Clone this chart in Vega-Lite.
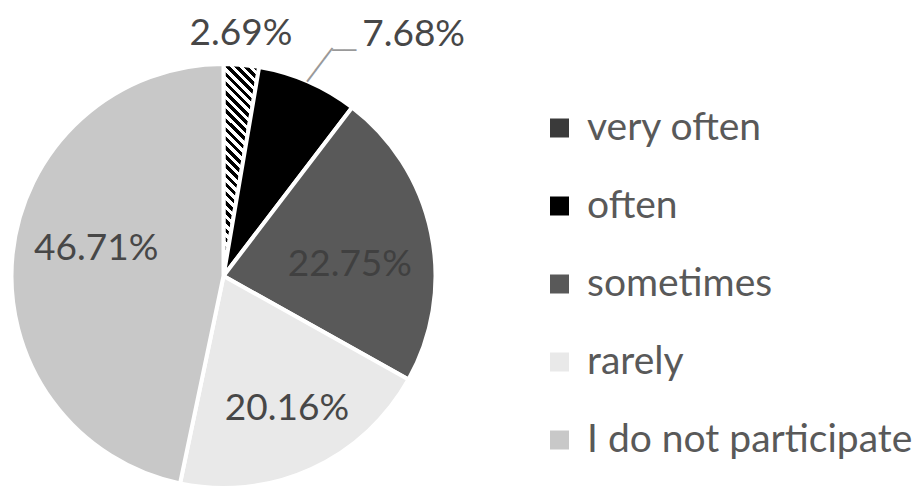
{
  "$schema": "https://vega.github.io/schema/vega-lite/v6.json",
  "width": 425,
  "height": 425,
  "autosize": {"type": "none"},
  "padding": {"left": 11, "top": 63.5, "right": 478, "bottom": 0.5},
  "background": "white",
  "config": {"view": {"stroke": null}},
  "data": {"values": [
    {"cat": "very often", "pct": 0.0269},
    {"cat": "often", "pct": 0.0768},
    {"cat": "sometimes", "pct": 0.2275},
    {"cat": "rarely", "pct": 0.2016},
    {"cat": "I do not participate", "pct": 0.4671}
  ]},
  "transform": [{"window": [{"op": "row_number", "as": "i"}]}],
  "encoding": {
    "theta": {"field": "pct", "type": "quantitative", "stack": true},
    "order": {"field": "i", "type": "quantitative"}
  },
  "layer": [
    {
      "mark": {"type": "arc", "outerRadius": 212, "stroke": "white", "strokeWidth": 4, "strokeJoin": "round"},
      "encoding": {
        "color": {
          "condition": {"test": "datum.cat === 'very often'", "value": {"gradient": "linear", "x1": 0, "y1": 1, "x2": 0.191, "y2": -0.136, "stops": [
            {"offset":0,"color":"#000"},{"offset":0.0185,"color":"#000"},{"offset":0.0185,"color":"#fff"},{"offset":0.037,"color":"#fff"},
            {"offset":0.037,"color":"#000"},{"offset":0.0556,"color":"#000"},{"offset":0.0556,"color":"#fff"},{"offset":0.0741,"color":"#fff"},
            {"offset":0.0741,"color":"#000"},{"offset":0.0926,"color":"#000"},{"offset":0.0926,"color":"#fff"},{"offset":0.1111,"color":"#fff"},
            {"offset":0.1111,"color":"#000"},{"offset":0.1296,"color":"#000"},{"offset":0.1296,"color":"#fff"},{"offset":0.1481,"color":"#fff"},
            {"offset":0.1481,"color":"#000"},{"offset":0.1667,"color":"#000"},{"offset":0.1667,"color":"#fff"},{"offset":0.1852,"color":"#fff"},
            {"offset":0.1852,"color":"#000"},{"offset":0.2037,"color":"#000"},{"offset":0.2037,"color":"#fff"},{"offset":0.2222,"color":"#fff"},
            {"offset":0.2222,"color":"#000"},{"offset":0.2407,"color":"#000"},{"offset":0.2407,"color":"#fff"},{"offset":0.2593,"color":"#fff"},
            {"offset":0.2593,"color":"#000"},{"offset":0.2778,"color":"#000"},{"offset":0.2778,"color":"#fff"},{"offset":0.2963,"color":"#fff"},
            {"offset":0.2963,"color":"#000"},{"offset":0.3148,"color":"#000"},{"offset":0.3148,"color":"#fff"},{"offset":0.3333,"color":"#fff"},
            {"offset":0.3333,"color":"#000"},{"offset":0.3519,"color":"#000"},{"offset":0.3519,"color":"#fff"},{"offset":0.3704,"color":"#fff"},
            {"offset":0.3704,"color":"#000"},{"offset":0.3889,"color":"#000"},{"offset":0.3889,"color":"#fff"},{"offset":0.4074,"color":"#fff"},
            {"offset":0.4074,"color":"#000"},{"offset":0.4259,"color":"#000"},{"offset":0.4259,"color":"#fff"},{"offset":0.4444,"color":"#fff"},
            {"offset":0.4444,"color":"#000"},{"offset":0.463,"color":"#000"},{"offset":0.463,"color":"#fff"},{"offset":0.4815,"color":"#fff"},
            {"offset":0.4815,"color":"#000"},{"offset":0.5,"color":"#000"},{"offset":0.5,"color":"#fff"},{"offset":0.5185,"color":"#fff"},
            {"offset":0.5185,"color":"#000"},{"offset":0.537,"color":"#000"},{"offset":0.537,"color":"#fff"},{"offset":0.5556,"color":"#fff"},
            {"offset":0.5556,"color":"#000"},{"offset":0.5741,"color":"#000"},{"offset":0.5741,"color":"#fff"},{"offset":0.5926,"color":"#fff"},
            {"offset":0.5926,"color":"#000"},{"offset":0.6111,"color":"#000"},{"offset":0.6111,"color":"#fff"},{"offset":0.6296,"color":"#fff"},
            {"offset":0.6296,"color":"#000"},{"offset":0.6481,"color":"#000"},{"offset":0.6481,"color":"#fff"},{"offset":0.6667,"color":"#fff"},
            {"offset":0.6667,"color":"#000"},{"offset":0.6852,"color":"#000"},{"offset":0.6852,"color":"#fff"},{"offset":0.7037,"color":"#fff"},
            {"offset":0.7037,"color":"#000"},{"offset":0.7222,"color":"#000"},{"offset":0.7222,"color":"#fff"},{"offset":0.7407,"color":"#fff"},
            {"offset":0.7407,"color":"#000"},{"offset":0.7593,"color":"#000"},{"offset":0.7593,"color":"#fff"},{"offset":0.7778,"color":"#fff"},
            {"offset":0.7778,"color":"#000"},{"offset":0.7963,"color":"#000"},{"offset":0.7963,"color":"#fff"},{"offset":0.8148,"color":"#fff"},
            {"offset":0.8148,"color":"#000"},{"offset":0.8333,"color":"#000"},{"offset":0.8333,"color":"#fff"},{"offset":0.8519,"color":"#fff"},
            {"offset":0.8519,"color":"#000"},{"offset":0.8704,"color":"#000"},{"offset":0.8704,"color":"#fff"},{"offset":0.8889,"color":"#fff"},
            {"offset":0.8889,"color":"#000"},{"offset":0.9074,"color":"#000"},{"offset":0.9074,"color":"#fff"},{"offset":0.9259,"color":"#fff"},
            {"offset":0.9259,"color":"#000"},{"offset":0.9444,"color":"#000"},{"offset":0.9444,"color":"#fff"},{"offset":0.963,"color":"#fff"},
            {"offset":0.963,"color":"#000"},{"offset":0.9815,"color":"#000"},{"offset":0.9815,"color":"#fff"},{"offset":1,"color":"#fff"}
          ]}},
          "field": "cat",
          "type": "nominal",
          "scale": {
            "domain": ["very often", "often", "sometimes", "rarely", "I do not participate"],
            "range": ["#3a3a3a", "#000000", "#595959", "#e9e9e9", "#c8c8c8"]
          },
          "legend": {
            "title": null,
            "orient": "none",
            "legendX": 529,
            "legendY": 45,
            "symbolType": "square",
            "symbolSize": 361,
            "symbolStrokeWidth": 0,
            "symbolOpacity": 1,
            "labelFont": "Lato",
            "labelFontSize": 39,
            "labelColor": "#595959",
            "labelOffset": 8,
            "rowPadding": 38,
            "labelLimit": 400,
            "encode": {
              "symbols": {
                "update": {
                  "fill": {"signal": "datum.value === 'very often' ? {gradient: 'linear', x1: 0, y1: 1, x2: 1, y2: 0, stops: [{offset: 0, color: '#000'}, {offset: 0.2, color: '#000'}, {offset: 0.2, color: '#fff'}, {offset: 0.4, color: '#fff'}, {offset: 0.4, color: '#000'}, {offset: 0.6, color: '#000'}, {offset: 0.6, color: '#fff'}, {offset: 0.8, color: '#fff'}, {offset: 0.8, color: '#000'}, {offset: 1, color: '#000'}]} : scale('color', datum.value)"}
                }
              }
            }
          }
        }
      }
    },
    {
      "mark": {"type": "text", "radius": 231.8, "thetaOffset": 0.0208, "text": "───", "font": "DejaVu Sans", "fontSize": 23, "color": "#999999", "align": "center", "baseline": "middle", "angle": -52.9},
      "encoding": {"opacity": {"condition": {"test": "datum.cat === 'often'", "value": 1}, "value": 0}}
    },
    {
      "mark": {"type": "text", "radius": 250, "text": "──", "font": "DejaVu Sans", "fontSize": 20, "color": "#999999", "align": "left", "baseline": "middle", "dx": 9, "dy": 4.5},
      "encoding": {"opacity": {"condition": {"test": "datum.cat === 'often'", "value": 1}, "value": 0}}
    },
    {
      "mark": {"type": "text", "radius": 242, "font": "Lato", "fontSize": 37, "color": "#474747", "baseline": "middle", "dx": -3, "dy": -1},
      "encoding": {
        "text": {"field": "pct", "type": "quantitative", "format": ".2%"},
        "opacity": {"condition": {"test": "datum.cat === 'very often'", "value": 1}, "value": 0}
      }
    },
    {
      "mark": {"type": "text", "radius": 250, "font": "Lato", "fontSize": 37, "color": "#474747", "baseline": "middle", "align": "left", "dx": 39, "dy": -12},
      "encoding": {
        "text": {"field": "pct", "type": "quantitative", "format": ".2%"},
        "opacity": {"condition": {"test": "datum.cat === 'often'", "value": 1}, "value": 0}
      }
    },
    {
      "mark": {"type": "text", "radius": 128, "font": "Lato", "fontSize": 37, "color": "#474747", "baseline": "middle", "dy": -14},
      "encoding": {
        "text": {"field": "pct", "type": "quantitative", "format": ".2%"},
        "opacity": {"condition": {"test": "datum.cat === 'I do not participate'", "value": 1}, "value": 0}
      }
    },
    {
      "mark": {"type": "text", "radius": 127, "font": "Lato", "fontSize": 37, "color": "#404040", "baseline": "middle", "dx": 2, "dy": 15},
      "encoding": {
        "text": {"field": "pct", "type": "quantitative", "format": ".2%"},
        "opacity": {"condition": {"test": "datum.cat === 'sometimes'", "value": 1}, "value": 0}
      }
    },
    {
      "mark": {"type": "text", "radius": 146, "font": "Lato", "fontSize": 37, "color": "#474747", "baseline": "middle", "dx": 3},
      "encoding": {
        "text": {"field": "pct", "type": "quantitative", "format": ".2%"},
        "opacity": {"condition": {"test": "datum.cat === 'rarely'", "value": 1}, "value": 0}
      }
    }
  ]
}
